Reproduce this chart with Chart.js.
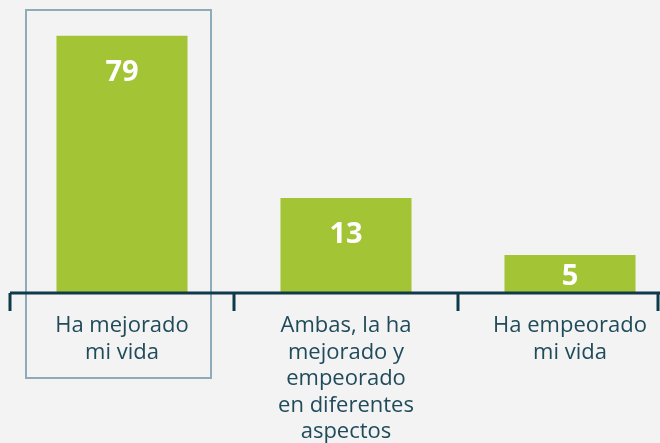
<!DOCTYPE html>
<html>
<head>
<meta charset="utf-8">
<script src="https://cdn.jsdelivr.net/npm/chart.js@4.4.1/dist/chart.umd.min.js"></script>
<style>
  html, body { margin: 0; padding: 0; background: #f3f3f3; overflow: hidden; }
  #wrap { width: 682px; height: 443px; position: relative; }
</style>
</head>
<body>
<div id="wrap"><canvas id="myChart"></canvas></div>
<script>
// categories (x axis labels, one entry per line)
var categories = [
    ["Ha mejorado", "mi vida"],
    ["Ambas, la ha", "mejorado y", "empeorado", "en diferentes", "aspectos"],
    ["Ha empeorado", "mi vida"]
];
// numbers printed on the bars
var values = [79, 13, 5];
// bar lengths as drawn in the picture (same units as the first bar)
var barLengths = [79, 29.2, 11.7];
var highlighted = 0;

var green = "#a2c435";
var dark = "#0e3a4a";
var textColor = "#1f4b5a";

// axis line, tick marks, value labels and the frame round the first category
var decorations = {
    id: "decorations",
    afterDatasetsDraw: function (chart) {
        var ctx = chart.ctx;
        var area = chart.chartArea;
        var x = chart.scales.x;
        var meta = chart.getDatasetMeta(0);
        var step = x.getPixelForValue(1) - x.getPixelForValue(0);
        var visibleRight = 658;

        ctx.save();
        // frame
        var c = x.getPixelForValue(highlighted);
        ctx.strokeStyle = "#8eabb9";
        ctx.lineWidth = 2;
        ctx.strokeRect(c - 96, 10, 185, 368);

        // axis line
        ctx.strokeStyle = dark;
        ctx.lineWidth = 3;
        ctx.beginPath();
        ctx.moveTo(area.left, area.bottom);
        ctx.lineTo(area.right, area.bottom);
        ctx.stroke();
        // ticks on category boundaries
        for (var i = 0; i <= categories.length; i++) {
            var tx = Math.min(x.getPixelForValue(0) - step / 2 + i * step, visibleRight);
            ctx.beginPath();
            ctx.moveTo(tx, area.bottom);
            ctx.lineTo(tx, area.bottom + 18);
            ctx.stroke();
        }

        // value labels
        ctx.fillStyle = "#ffffff";
        ctx.font = "bold 29px 'Open Sans'";
        ctx.textAlign = "center";
        ctx.textBaseline = "middle";
        meta.data.forEach(function (bar, i) {
            var y = Math.min(bar.y + 37, bar.base - 16);
            ctx.fillText(String(values[i]), bar.x, y);
        });
        ctx.restore();
    }
};

new Chart("myChart", {
    type: "bar",
    data: {
        labels: categories,
        datasets: [{
            data: barLengths,
            backgroundColor: green,
            borderWidth: 0,
            barPercentage: 0.585,
            categoryPercentage: 1
        }]
    },
    options: {
        responsive: true,
        maintainAspectRatio: false,
        animation: false,
        layout: { padding: { left: 10, right: 0, top: 0, bottom: 0 } },
        plugins: {
            legend: { display: false },
            tooltip: { enabled: false }
        },
        scales: {
            x: {
                grid: { display: false },
                border: { display: false },
                afterFit: function (scale) { scale.height = 150; },
                ticks: {
                    color: textColor,
                    font: { family: "'Open Sans'", size: 22, lineHeight: 1.2 },
                    padding: 12,
                    maxRotation: 0,
                    autoSkip: false
                }
            },
            y: {
                display: false,
                min: 0,
                max: 90
            }
        }
    },
    plugins: [decorations]
});
</script>
</body>
</html>
